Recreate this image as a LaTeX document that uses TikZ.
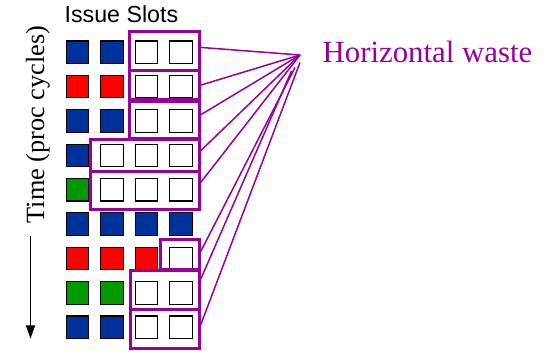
\documentclass[tikz,border=0pt]{standalone}
\usepackage{fontspec}
\setmainfont{Liberation Serif}
\newfontfamily\labelsans{Liberation Sans}
\usetikzlibrary{arrows.meta,calc}

% slot fills: B blue, R red, G green, W empty
\definecolor{slotB}{HTML}{003399}
\definecolor{slotR}{HTML}{FF0000}
\definecolor{slotG}{HTML}{009900}
\definecolor{slotW}{HTML}{FFFFFF}
\definecolor{waste}{HTML}{990099}

\tikzset{
  slot/.style={draw=black, line width=1.1pt, minimum size=22.5pt, inner sep=0pt},
  wastebox/.style={draw=waste, line width=3pt, inner sep=0pt},
  wasteline/.style={draw=waste, line width=1.5pt},
  timearrow/.style={draw=black, line width=1pt, -{Triangle[width=9pt,length=13pt]}}
}

\begin{document}
\begin{tikzpicture}[x=1pt,y=-1pt]
  \useasboundingbox (0,0) rectangle (550,355);

  % issue slots, one row per cycle
  \foreach \r/\cols in {1/{B,B,W,W},2/{R,R,W,W},3/{B,B,W,W},4/{B,W,W,W},
                        5/{G,W,W,W},6/{B,B,B,B},7/{R,R,R,W},8/{G,G,W,W},9/{B,B,W,W}}{
    \foreach \c [count=\i] in \cols {
      \node[slot, fill=slot\c] (s\r\i) at ({77.5+34.5*(\i-1)}, {52.3+34.375*(\r-1)}) {};
    }
  }

  % wasted slots grouped per cycle
  \node[wastebox, minimum width=70pt,   minimum height=39pt]   (b1) at (164.3,51.2)  {};
  \node[wastebox, minimum width=70pt,   minimum height=28.8pt] (b2) at (164.3,85.1)  {};
  \node[wastebox, minimum width=70pt,   minimum height=36.8pt] (b3) at (164.3,119.9) {};
  \node[wastebox, minimum width=108.6pt,minimum height=31.7pt] (b4) at (145,155.85)  {};
  \node[wastebox, minimum width=108.6pt,minimum height=37.6pt] (b5) at (145,190.5)   {};
  \node[wastebox, minimum width=38.6pt, minimum height=30pt]   (b7) at (180,255)     {};
  \node[wastebox, minimum width=69.3pt, minimum height=38.3pt] (b8) at (164.65,290.15) {};
  \node[wastebox, minimum width=69.3pt, minimum height=38.3pt] (b9) at (164.65,329.15) {};

  % label and where its pointer lines meet
  \node[anchor=base west, text=waste, inner sep=0pt, font=\fontsize{30.8}{36}\selectfont]
    (hw) at (322.5,62.7) {Horizontal waste};
  \coordinate (apex) at (300,55);
  \coordinate (e7) at (295,67.5);
  \coordinate (e8) at (291.5,71);
  \coordinate (e9) at (300,62.5);

  \draw[wasteline] ($(b1.north east)!0.41!(b1.south east)$) -- (apex);
  \draw[wasteline] (b2.east) -- (apex);
  \draw[wasteline] ($(b3.north east)!0.37!(b3.south east)$) -- (apex);
  \draw[wasteline] ($(b4.north east)!0.35!(b4.south east)$) -- (apex);
  \draw[wasteline] ($(b5.north east)!0.30!(b5.south east)$) -- (apex);
  \draw[wasteline] ($(b7.north east)!0.39!(b7.south east)$) -- (e7);
  \draw[wasteline] ($(b8.north east)!0.23!(b8.south east)$) -- (e8);
  \draw[wasteline] ($(b9.north east)!0.39!(b9.south east)$) -- (e9);

  % axis labels
  \node[anchor=base west, inner sep=0pt, font=\labelsans\fontsize{23.2}{27}\selectfont]
    (slots) at (64.5,22.7) {Issue Slots};
  \node[anchor=base, rotate=90, inner sep=0pt, font=\fontsize{26.3}{31}\selectfont]
    (time) at (44,124.4) {Time (proc cycles)};
  \coordinate (tstart) at (30.5,236);
  \coordinate (tend) at (30.5,338.5);
  \draw[timearrow] (tstart) -- (tend);
\end{tikzpicture}
\end{document}
